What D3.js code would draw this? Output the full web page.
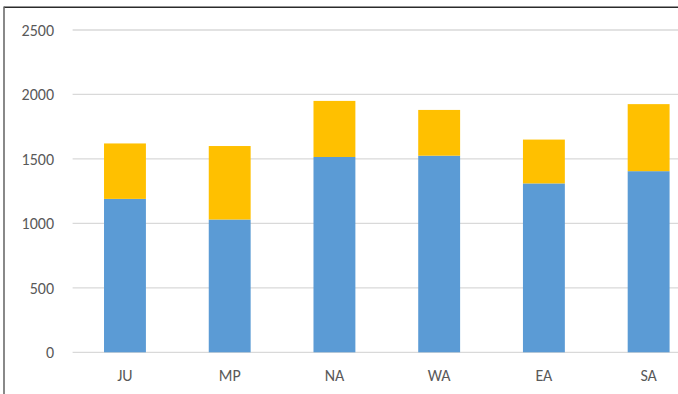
<!DOCTYPE html>
<html>
<head>
<meta charset="utf-8">
<script src="https://cdn.jsdelivr.net/npm/d3@7"></script>
<style>
  body { margin: 0; background: #fff; }
  svg text { font-family: Carlito, Calibri, Lato, sans-serif; fill: #595959; }
</style>
</head>
<body>
<div id="chart"></div>
<script>
const categories = ['JU', 'MP', 'NA', 'WA', 'EA', 'SA']
const blueValues = [1190, 1030, 1515, 1525, 1310, 1405]
const orangeValues = [430, 570, 435, 355, 340, 520]
const yTicks = [0, 500, 1000, 1500, 2000, 2500]

const width = 678
const height = 394
const margin = { top: 30, left: 72.6, right: -23, bottom: 41.7 }

const svg = d3
  .select('#chart')
  .append('svg')
  .attr('width', width)
  .attr('height', height)

// chart border (cropped at right and bottom)
svg.append('line')
  .attr('x1', 4).attr('x2', width).attr('y1', 7.3).attr('y2', 7.3)
  .attr('stroke', '#2b2b2b').attr('stroke-width', 1.6)
svg.append('line')
  .attr('x1', 4).attr('x2', 4).attr('y1', 6.5).attr('y2', height)
  .attr('stroke', '#6b6b6b').attr('stroke-width', 1.6)

const xScale = d3.scaleBand()
  .domain(categories)
  .range([margin.left, width - margin.right])
  .paddingInner(0.6)
  .paddingOuter(0.3)

const yScale = d3.scaleLinear()
  .domain([0, 2500])
  .range([height - margin.bottom, margin.top])

// gridlines
svg.append('g')
  .selectAll('line')
  .data(yTicks)
  .enter()
  .append('line')
  .attr('x1', margin.left)
  .attr('x2', width)
  .attr('y1', d => yScale(d))
  .attr('y2', d => yScale(d))
  .attr('stroke', '#d9d9d9')
  .attr('stroke-width', 1.3)

// y labels
svg.append('g')
  .selectAll('text')
  .data(yTicks)
  .enter()
  .append('text')
  .text(d => d)
  .attr('x', 54)
  .attr('y', d => yScale(d))
  .attr('dy', '0.36em')
  .attr('text-anchor', 'end')
  .attr('font-size', 16)

const rows = categories.map((c, i) => ({ cat: c, blue: blueValues[i], orange: orangeValues[i] }))
const stacked = d3.stack().keys(['blue', 'orange'])(rows)
const colors = { blue: '#5b9bd5', orange: '#ffc000' }

svg.append('g')
  .selectAll('g')
  .data(stacked)
  .enter()
  .append('g')
  .attr('fill', d => colors[d.key])
  .selectAll('rect')
  .data(d => d)
  .enter()
  .append('rect')
  .attr('x', d => xScale(d.data.cat))
  .attr('width', xScale.bandwidth())
  .attr('y', d => yScale(d[1]))
  .attr('height', d => yScale(d[0]) - yScale(d[1]))

// x labels
svg.append('g')
  .selectAll('text')
  .data(categories)
  .enter()
  .append('text')
  .text(d => d)
  .attr('x', d => xScale(d) + xScale.bandwidth() / 2)
  .attr('y', 381)
  .attr('text-anchor', 'middle')
  .attr('font-size', 16)
</script>
</body>
</html>
